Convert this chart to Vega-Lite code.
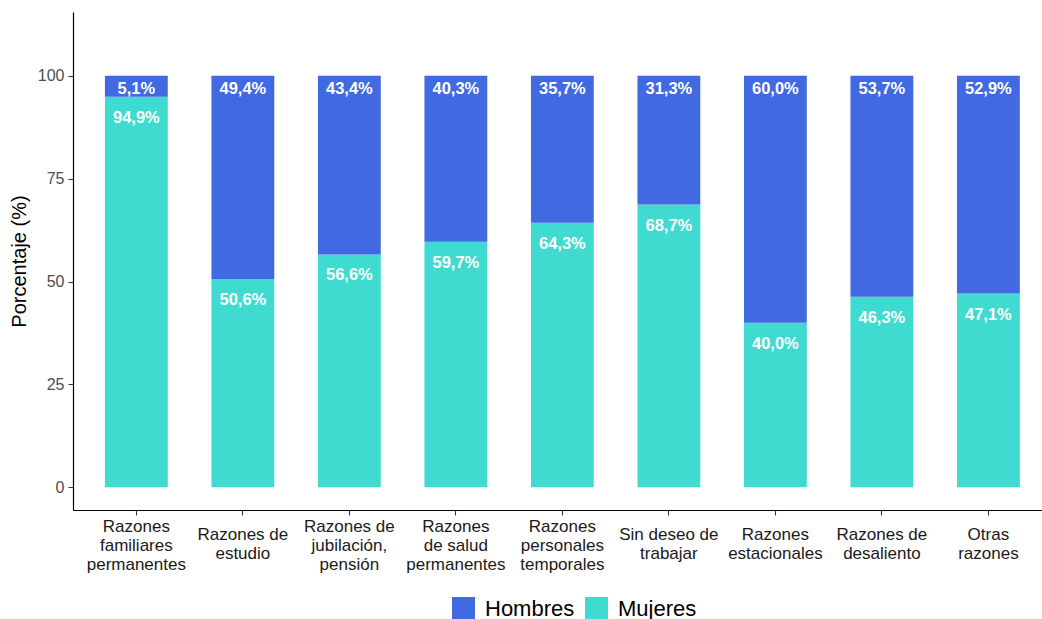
{
  "$schema": "https://vega.github.io/schema/vega-lite/v6.json",
  "width": 969,
  "height": 498,
  "autosize": {"type": "none"},
  "padding": {"left": 73, "top": 12, "right": 0, "bottom": 109},
  "background": "white",
  "config": {
    "font": "Liberation Sans",
    "view": {"stroke": null},
    "axis": {"grid": false, "domainColor": "#000000", "domainWidth": 1.2, "tickColor": "#333333", "tickWidth": 1.1, "tickSize": 5}
  },
  "data": {
    "values": [
      {"razon": "Razones\nfamiliares\npermanentes", "sexo": "Mujeres", "orden": 1, "pct": 94.9},
      {"razon": "Razones\nfamiliares\npermanentes", "sexo": "Hombres", "orden": 2, "pct": 5.1},
      {"razon": "Razones de\nestudio", "sexo": "Mujeres", "orden": 1, "pct": 50.6},
      {"razon": "Razones de\nestudio", "sexo": "Hombres", "orden": 2, "pct": 49.4},
      {"razon": "Razones de\njubilación,\npensión", "sexo": "Mujeres", "orden": 1, "pct": 56.6},
      {"razon": "Razones de\njubilación,\npensión", "sexo": "Hombres", "orden": 2, "pct": 43.4},
      {"razon": "Razones\nde salud\npermanentes", "sexo": "Mujeres", "orden": 1, "pct": 59.7},
      {"razon": "Razones\nde salud\npermanentes", "sexo": "Hombres", "orden": 2, "pct": 40.3},
      {"razon": "Razones\npersonales\ntemporales", "sexo": "Mujeres", "orden": 1, "pct": 64.3},
      {"razon": "Razones\npersonales\ntemporales", "sexo": "Hombres", "orden": 2, "pct": 35.7},
      {"razon": "Sin deseo de\ntrabajar", "sexo": "Mujeres", "orden": 1, "pct": 68.7},
      {"razon": "Sin deseo de\ntrabajar", "sexo": "Hombres", "orden": 2, "pct": 31.3},
      {"razon": "Razones\nestacionales", "sexo": "Mujeres", "orden": 1, "pct": 40.0},
      {"razon": "Razones\nestacionales", "sexo": "Hombres", "orden": 2, "pct": 60.0},
      {"razon": "Razones de\ndesaliento", "sexo": "Mujeres", "orden": 1, "pct": 46.3},
      {"razon": "Razones de\ndesaliento", "sexo": "Hombres", "orden": 2, "pct": 53.7},
      {"razon": "Otras\nrazones", "sexo": "Mujeres", "orden": 1, "pct": 47.1},
      {"razon": "Otras\nrazones", "sexo": "Hombres", "orden": 2, "pct": 52.9}
    ]
  },
  "transform": [
    {"stack": "pct", "groupby": ["razon"], "sort": [{"field": "orden", "order": "ascending"}], "as": ["y0", "y1"]},
    {"calculate": "replace(format(datum.pct, '.1f'), '.', ',') + '%'", "as": "etiqueta"}
  ],
  "encoding": {
    "x": {
      "field": "razon",
      "type": "nominal",
      "sort": null,
      "scale": {"paddingInner": 0.41, "paddingOuter": 0.254, "align": 0.59},
      "axis": {
        "title": null,
        "labelAngle": 0,
        "labelExpr": "split(datum.label, '\\n')",
        "labelFontSize": 17,
        "labelLineHeight": 19,
        "labelColor": "#1a1a1a",
        "labelPadding": {"condition": {"test": "length(split(datum.value, '\\n')) == 2", "value": 11}, "value": 3},
        "labelBaseline": "top"
      }
    }
  },
  "layer": [
    {
      "mark": {"type": "bar"},
      "encoding": {
        "y": {
          "field": "y1",
          "type": "quantitative",
          "scale": {"domain": [-5.5, 115.5], "nice": false, "zero": false},
          "axis": {
            "title": "Porcentaje (%)",
            "titleFontSize": 20,
            "titleFontWeight": "normal",
            "titleColor": "#000000",
            "titlePadding": 8,
            "values": [0, 25, 50, 75, 100],
            "labelFontSize": 16,
            "labelColor": "#4d4d4d",
            "labelPadding": 4
          }
        },
        "y2": {"field": "y0"},
        "color": {
          "field": "sexo",
          "type": "nominal",
          "scale": {"domain": ["Hombres", "Mujeres"], "range": ["#4169E1", "#40DBD0"]},
          "legend": {
            "title": null,
            "orient": "none",
            "legendX": 379,
            "legendY": 585,
            "direction": "horizontal",
            "symbolType": "square",
            "symbolSize": 529,
            "symbolStrokeWidth": 0,
            "symbolOpacity": 1,
            "labelFontSize": 22,
            "labelColor": "#000000",
            "labelOffset": 10,
            "columnPadding": 10
          }
        }
      }
    },
    {
      "transform": [{"filter": "datum.sexo === 'Hombres'"}],
      "mark": {"type": "text", "color": "white", "fontWeight": "bold", "fontSize": 16.5, "baseline": "middle", "dy": 13.5},
      "encoding": {
        "y": {"field": "y1", "type": "quantitative"},
        "text": {"field": "etiqueta"}
      }
    },
    {
      "transform": [{"filter": "datum.sexo === 'Mujeres'"}],
      "mark": {"type": "text", "color": "white", "fontWeight": "bold", "fontSize": 16.5, "baseline": "middle", "dy": 21},
      "encoding": {
        "y": {"field": "y1", "type": "quantitative"},
        "text": {"field": "etiqueta"}
      }
    }
  ]
}
